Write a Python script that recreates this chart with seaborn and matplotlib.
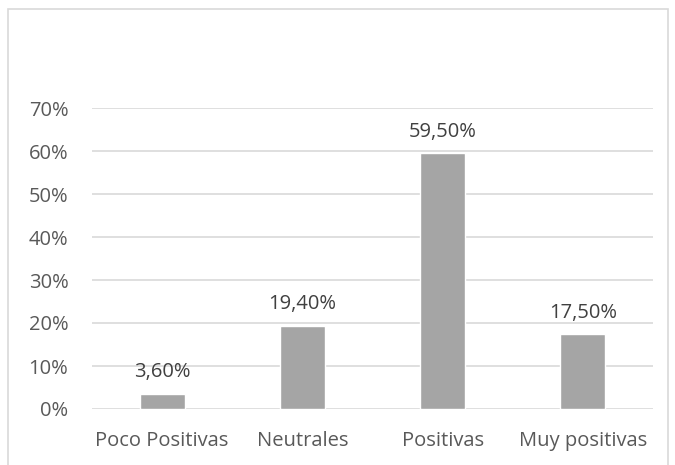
import matplotlib
matplotlib.use("Agg")
import matplotlib.pyplot as plt
from matplotlib.patches import Rectangle
from matplotlib.ticker import PercentFormatter, MultipleLocator
import seaborn as sns
import pandas as pd

categorias = ["Poco Positivas", "Neutrales", "Positivas", "Muy positivas"]
valores = [3.60, 19.40, 59.50, 17.50]
etiquetas = ["3,60%", "19,40%", "59,50%", "17,50%"]

sns.set_theme(style="white")
plt.rcParams["font.family"] = ["Open Sans", "DejaVu Sans"]

df = pd.DataFrame({"categoria": categorias, "valor": valores})

fig = plt.figure(figsize=(6.75, 4.65), dpi=100)
ax = fig.add_axes([92 / 675, 1 - 409 / 465, (653 - 92) / 675, (409 - 108) / 465])

sns.barplot(data=df, x="categoria", y="valor", color="#A5A5A5", width=0.32,
            saturation=1, ax=ax, zorder=3)

ax.set_ylim(0, 70)
ax.yaxis.set_major_locator(MultipleLocator(10))
ax.yaxis.set_major_formatter(PercentFormatter(decimals=0))
ax.grid(axis="y", color="#D9D9D9", linewidth=1.2, zorder=0)
ax.set_axisbelow(True)
for s in ax.spines.values():
    s.set_visible(False)
ax.set_xlabel("")
ax.set_ylabel("")
ax.tick_params(axis="y", length=0, pad=17, labelsize=14.5, labelcolor="#595959")
ax.tick_params(axis="x", length=0, pad=16, labelsize=14.5, labelcolor="#595959")

for bar, txt in zip(ax.patches, etiquetas):
    ax.annotate(txt, (bar.get_x() + bar.get_width() / 2, bar.get_height()),
                xytext=(0, 8), textcoords="offset points", ha="center", va="bottom",
                fontsize=14.5, color="#404040")

# light frame around the chart area
fig.patches.append(Rectangle((8 / 675, -0.02), (668 - 8) / 675, 1 - 9 / 465 + 0.02,
                             transform=fig.transFigure, fill=False,
                             edgecolor="#D9D9D9", linewidth=1.2))

fig.savefig("out.png", dpi=100, facecolor="white")
